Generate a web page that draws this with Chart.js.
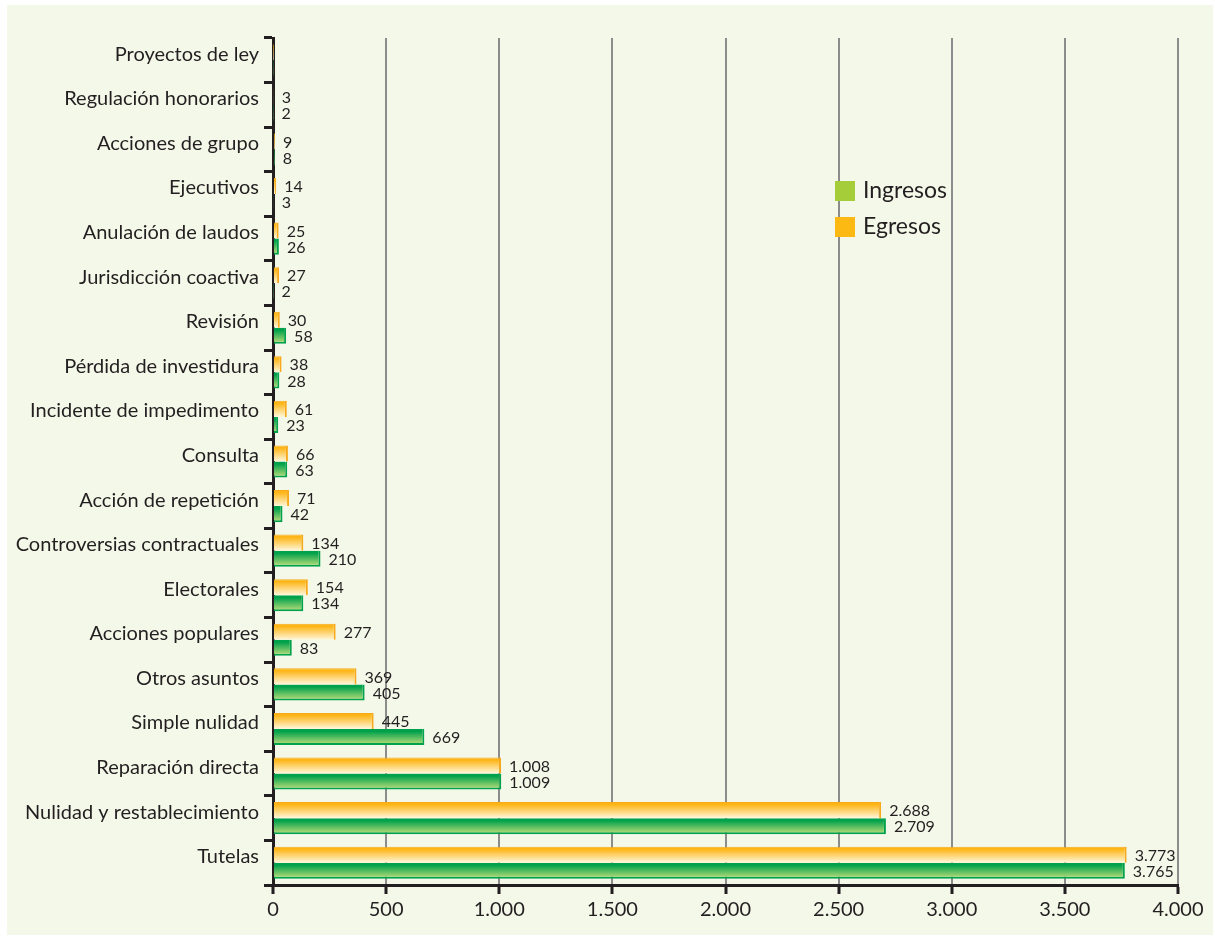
<!DOCTYPE html>
<html>
<head>
<meta charset="utf-8">
<script src="https://cdn.jsdelivr.net/npm/chart.js"></script>
<style>
  html, body { margin: 0; padding: 0; background: #ffffff; }
  #panel { position: absolute; left: 7px; top: 5px; width: 1206px; height: 930px; background: #f4f8e9; }
  #wrap { position: absolute; left: 0; top: 0; width: 1215px; height: 939px; }
</style>
</head>
<body>
<div id="panel"></div>
<div id="wrap"><canvas id="chart" width="1215" height="939"></canvas></div>
<script>
// categories top to bottom
const categories = [
  "Proyectos de ley", "Regulación honorarios", "Acciones de grupo", "Ejecutivos",
  "Anulación de laudos", "Jurisdicción coactiva", "Revisión", "Pérdida de investidura",
  "Incidente de impedimento", "Consulta", "Acción de repetición",
  "Controversias contractuales", "Electorales", "Acciones populares", "Otros asuntos",
  "Simple nulidad", "Reparación directa", "Nulidad y restablecimiento", "Tutelas"
];
const egresos  = [1, 3, 9, 14, 25, 27, 30, 38, 61, 66, 71, 134, 154, 277, 369, 445, 1008, 2688, 3773];
const ingresos = [2, 2, 8, 3, 26, 2, 58, 28, 23, 63, 42, 210, 134, 83, 405, 669, 1009, 2709, 3765];
// the first row carries no value labels in the original
const showValue = [false, true, true, true, true, true, true, true, true, true, true, true, true, true, true, true, true, true, true];
const xTicks = [0, 500, 1000, 1500, 2000, 2500, 3000, 3500, 4000];

const CAT_PCT = 0.72;
const ORANGE = ["#fdb515", "#fff7dc"];
const GREEN = ["#00a14b", "#c3e07c"];

function fmt(v) {
  return String(v).replace(/\B(?=(\d{3})+(?!\d))/g, ".");
}

// vertical gradient for each bar, worked out from the category scale
function barGradient(colors) {
  return (context) => {
    const chart = context.chart;
    const ys = chart.scales.y;
    if (!ys || context.dataIndex === undefined) return colors[0];
    const c = ys.getPixelForValue(context.dataIndex);
    const band = (ys.bottom - ys.top) / categories.length * CAT_PCT / 2;
    const top = c - band + context.datasetIndex * band;
    if (!Number.isFinite(top) || !Number.isFinite(band) || band <= 0) return colors[0];
    const g = chart.ctx.createLinearGradient(0, top, 0, top + band);
    g.addColorStop(0, colors[0]);
    g.addColorStop(0.15, colors[0]);
    g.addColorStop(1, colors[1]);
    return g;
  };
}

const valueLabels = {
  id: "valueLabels",
  afterDatasetsDraw(chart) {
    const ctx = chart.ctx;
    ctx.save();
    ctx.font = "16px Lato";
    ctx.fillStyle = "#231f20";
    ctx.textAlign = "left";
    ctx.textBaseline = "middle";
    chart.data.datasets.forEach((ds, di) => {
      const meta = chart.getDatasetMeta(di);
      meta.data.forEach((el, i) => {
        if (!showValue[i]) return;
        ctx.fillText(fmt(ds.data[i]), el.x + 8, el.y + 1);
      });
    });
    ctx.restore();
  }
};

const boxLegend = {
  id: "boxLegend",
  afterDraw(chart) {
    const ctx = chart.ctx;
    const a = chart.chartArea;
    const items = [["Ingresos", "#a5cd39"], ["Egresos", "#fdb913"]];
    ctx.save();
    ctx.font = "23px Lato";
    ctx.textBaseline = "middle";
    items.forEach((it, k) => {
      const x = a.right - 343;
      const y = a.top + 143 + k * 36;
      ctx.fillStyle = it[1];
      ctx.fillRect(x, y, 20, 20);
      ctx.fillStyle = "#231f20";
      ctx.fillText(it[0], x + 28, y + 10);
    });
    ctx.restore();
  }
};

new Chart(document.getElementById("chart"), {
  type: "bar",
  data: {
    labels: categories,
    datasets: [
      {
        label: "Egresos",
        data: egresos,
        backgroundColor: barGradient(ORANGE),
        borderColor: "#f7a81b",
        borderWidth: { top: 1, right: 2, bottom: 0 },
        borderSkipped: "start",
        categoryPercentage: CAT_PCT,
        barPercentage: 1
      },
      {
        label: "Ingresos",
        data: ingresos,
        backgroundColor: barGradient(GREEN),
        borderColor: "#00a14b",
        borderWidth: { top: 0, right: 2, bottom: 2 },
        borderSkipped: "start",
        categoryPercentage: CAT_PCT,
        barPercentage: 1
      }
    ]
  },
  options: {
    indexAxis: "y",
    responsive: false,
    animation: false,
    maintainAspectRatio: false,
    layout: { padding: { top: 38, right: 37, bottom: 0, left: 0 } },
    plugins: {
      legend: { display: false },
      tooltip: { enabled: false }
    },
    scales: {
      x: {
        min: 0,
        max: 4000,
        afterBuildTicks: (scale) => { scale.ticks = xTicks.map((v) => ({ value: v })); },
        ticks: {
          callback: (v) => fmt(v),
          color: "#231f20",
          font: { family: "Lato", size: 20 },
          padding: 4,
          maxRotation: 0
        },
        grid: {
          color: "#8c8c8c",
          lineWidth: 2,
          tickColor: "#231f20",
          tickWidth: 3,
          tickLength: 9
        },
        border: { color: "#231f20", width: 3 },
        afterFit: (scale) => { scale.height = 54; }
      },
      y: {
        ticks: {
          color: "#231f20",
          font: { family: "Lato", size: 20 },
          padding: 5,
          labelOffset: -6
        },
        grid: {
          offset: true,
          drawOnChartArea: false,
          tickColor: "#231f20",
          tickWidth: 3,
          tickLength: 9
        },
        border: { color: "#231f20", width: 3 },
        afterFit: (scale) => { scale.width = 273; }
      }
    }
  },
  plugins: [valueLabels, boxLegend]
});
</script>
</body>
</html>
